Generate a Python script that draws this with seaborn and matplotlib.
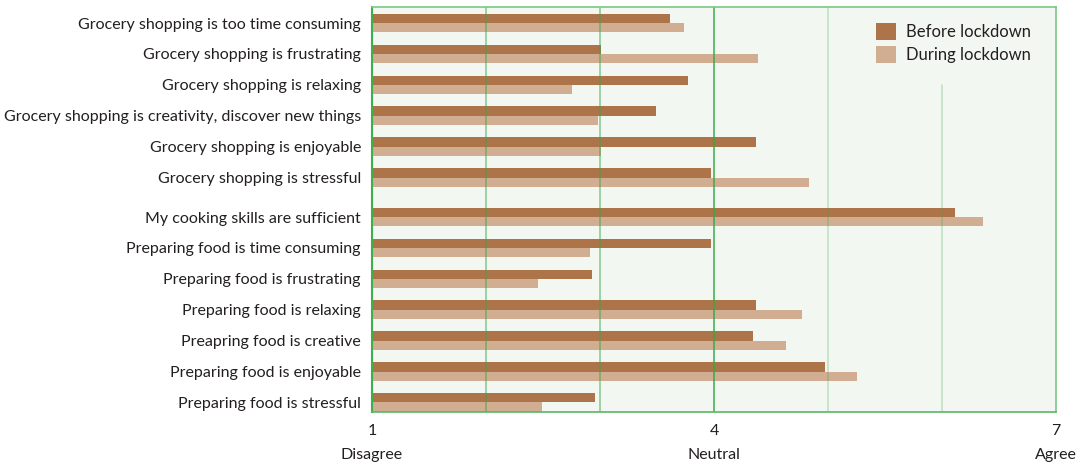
import numpy as np
import pandas as pd
import matplotlib
matplotlib.use("Agg")
import matplotlib.pyplot as plt
import seaborn as sns

# Attitude statements (top to bottom) and mean agreement on a 1-7 scale
statements = [
    "Grocery shopping is too time consuming",
    "Grocery shopping is frustrating",
    "Grocery shopping is relaxing",
    "Grocery shopping is creativity, discover new things",
    "Grocery shopping is enjoyable",
    "Grocery shopping is stressful",
    "My cooking skills are sufficient",
    "Preparing food is time consuming",
    "Preparing food is frustrating",
    "Preparing food is relaxing",
    "Preapring food is creative",
    "Preparing food is enjoyable",
    "Preparing food is stressful",
]
group = ["shopping"] * 6 + ["cooking"] * 7
before_lockdown = [3.61, 3.01, 3.77, 3.49, 4.37, 3.97, 6.11, 3.97, 2.93, 4.37, 4.34, 4.97, 2.96]
during_lockdown = [3.74, 4.39, 2.75, 2.98, 3.01, 4.83, 6.36, 2.91, 2.46, 4.77, 4.63, 5.25, 2.49]
periods = ["Before lockdown", "During lockdown"]
scale_ticks = [1, 4, 7]
scale_words = ["Disagree", "Neutral", "Agree"]

# Row positions: a small extra gap separates the shopping and cooking blocks
group_gap = 0.28
positions = [i + (group_gap if g == "cooking" else 0.0) for i, g in enumerate(group)]

df = pd.DataFrame({
    "statement": statements * 2,
    "position": positions * 2,
    "period": [periods[0]] * len(statements) + [periods[1]] * len(statements),
    "score": before_lockdown + during_lockdown,
})

bg = "#f2f8f1"
text_color = "#231f20"
colors = ["#ad744a", "#d1ad91"]

sns.set_theme(style="white")
plt.rcParams["font.family"] = ["Lato", "DejaVu Sans"]

fig = plt.figure(figsize=(10.82, 4.68), dpi=100)
ax_top_px, ax_bottom_px = 7.0, 411.7
ax = fig.add_axes([372 / 1082, 1 - ax_bottom_px / 468, (1056 - 372) / 1082,
                   (ax_bottom_px - ax_top_px) / 468])
ax.set_facecolor(bg)

sns.barplot(
    data=df, x="score", y="position", hue="period", hue_order=periods,
    orient="h", native_scale=True, width=0.6, dodge=True,
    palette=colors, saturation=1, linewidth=0, ax=ax,
)

# Vertical reference lines across the scale; the one at 6 stops below the legend
legend_floor = (ax_bottom_px - 85) / (ax_bottom_px - ax_top_px)
grid_style = {2: ("#3aa64a", 0.5, 1.0), 3: ("#3aa64a", 0.5, 1.0), 4: ("#2faa45", 0.8, 1.0),
              5: ("#3aa64a", 0.25, 1.0), 6: ("#3aa64a", 0.25, legend_floor)}
for xv, (c, a, top) in grid_style.items():
    ax.axvline(xv, ymin=0, ymax=top, color=c, alpha=a, lw=1.3, zorder=3)

ax.set_xlim(1, 7)
ax.set_ylim(positions[-1] + 0.30, -0.52)
ax.set_yticks(positions)
ax.set_yticklabels(statements, fontsize=11.5, color=text_color)
ax.set_xticks(scale_ticks)
ax.set_xticklabels([str(t) for t in scale_ticks], fontsize=11.5, color=text_color)
ax.tick_params(axis="both", length=0)
ax.tick_params(axis="y", pad=8)
ax.tick_params(axis="x", pad=9)
ax.set_xlabel("")
ax.set_ylabel("")

for xv, word in zip(scale_ticks, scale_words):
    ax.text(xv, -0.107, word, transform=ax.get_xaxis_transform(),
            ha="center", va="center", fontsize=11.5, color=text_color)

for side, spine in ax.spines.items():
    spine.set_visible(True)
    spine.set_color("#7cc782")
    spine.set_linewidth(1.2)
    spine.set_zorder(6)
ax.spines["left"].set_color("#3db04c")
ax.spines["left"].set_linewidth(1.5)
ax.spines["bottom"].set_color("#5bb567")

handles, labels = ax.get_legend_handles_labels()
leg = ax.legend(
    handles, labels, loc="upper left",
    bbox_to_anchor=((876 - 372) / 684, (ax_bottom_px - 22.5) / (ax_bottom_px - ax_top_px)),
    frameon=False, fontsize=12, handlelength=1.2, handleheight=1.2, labelspacing=0.38,
    handletextpad=0.6, borderpad=0.0, borderaxespad=0.0,
)
for t in leg.get_texts():
    t.set_color(text_color)

fig.savefig("out.png", dpi=100, facecolor="white")
